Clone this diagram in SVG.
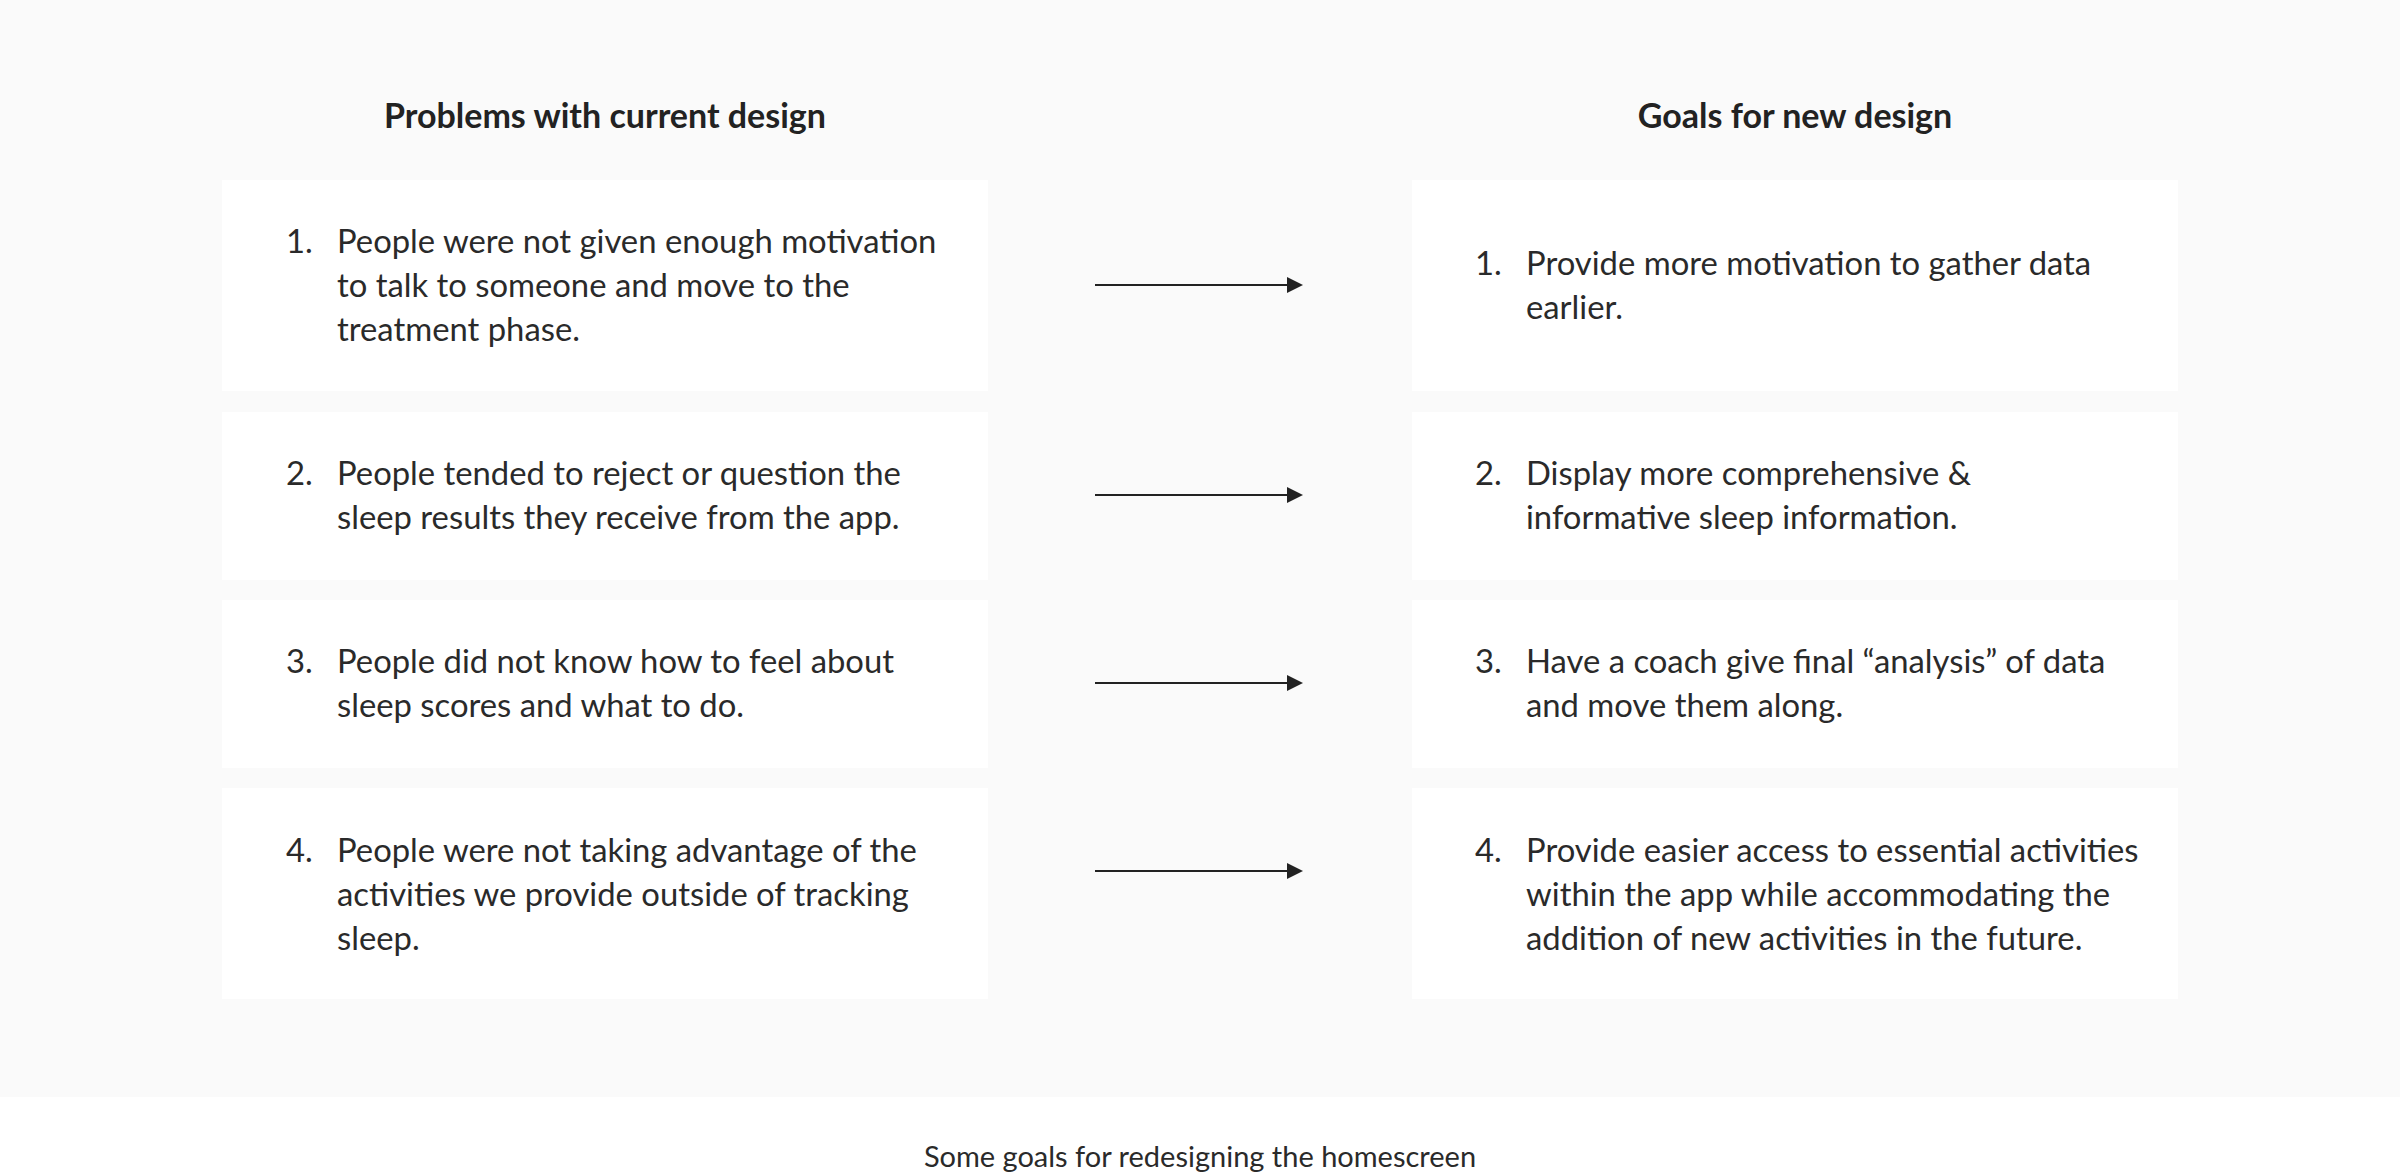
<svg xmlns="http://www.w3.org/2000/svg" width="2400" height="1174" viewBox="0 0 2400 1174">
<defs>
<style>
.bg{fill:#fafafa}
.box{fill:#ffffff}
.hd{font-family:Lato,"Noto Sans",sans-serif;font-weight:700;font-size:34px;fill:#222222;text-anchor:middle}
.t{font-family:Lato,"Noto Sans",sans-serif;font-size:32.8px;fill:#2a2a2a}
.cap{font-family:Lato,"Noto Sans",sans-serif;font-size:29px;fill:#2a2a2a;text-anchor:middle}
.ln{stroke:#222222;stroke-width:2.2;fill:none}
</style>
<marker id="ah" viewBox="0 0 16 16" refX="0" refY="8" markerWidth="16" markerHeight="16" markerUnits="userSpaceOnUse" orient="auto">
<path d="M0,0 L16,8 L0,16 Z" fill="#222222"/>
</marker>
</defs>
<rect x="0" y="0" width="2400" height="1174" fill="#ffffff"/>
<rect class="bg" x="0" y="0" width="2400" height="1097"/>

<g id="header-left"><text class="hd" x="605" y="128">Problems with current design</text></g>
<g id="header-right"><text class="hd" x="1795" y="128">Goals for new design</text></g>

<g id="p1">
<rect class="box" x="222" y="180" width="766" height="211"/>
<text class="t" x="286" y="253">1.</text>
<text class="t" x="337" y="253">People were not given enough motivation</text>
<text class="t" x="337" y="297">to talk to someone and move to the</text>
<text class="t" x="337" y="341">treatment phase.</text>
</g>
<g id="p2">
<rect class="box" x="222" y="412" width="766" height="168"/>
<text class="t" x="286" y="485">2.</text>
<text class="t" x="337" y="485">People tended to reject or question the</text>
<text class="t" x="337" y="529">sleep results they receive from the app.</text>
</g>
<g id="p3">
<rect class="box" x="222" y="600" width="766" height="168"/>
<text class="t" x="286" y="673">3.</text>
<text class="t" x="337" y="673">People did not know how to feel about</text>
<text class="t" x="337" y="717">sleep scores and what to do.</text>
</g>
<g id="p4">
<rect class="box" x="222" y="788" width="766" height="211"/>
<text class="t" x="286" y="862">4.</text>
<text class="t" x="337" y="862">People were not taking advantage of the</text>
<text class="t" x="337" y="906">activities we provide outside of tracking</text>
<text class="t" x="337" y="950">sleep.</text>
</g>

<g id="g1">
<rect class="box" x="1412" y="180" width="766" height="211"/>
<text class="t" x="1475" y="275">1.</text>
<text class="t" x="1526" y="275">Provide more motivation to gather data</text>
<text class="t" x="1526" y="319">earlier.</text>
</g>
<g id="g2">
<rect class="box" x="1412" y="412" width="766" height="168"/>
<text class="t" x="1475" y="485">2.</text>
<text class="t" x="1526" y="485">Display more comprehensive &amp;</text>
<text class="t" x="1526" y="529">informative sleep information.</text>
</g>
<g id="g3">
<rect class="box" x="1412" y="600" width="766" height="168"/>
<text class="t" x="1475" y="673">3.</text>
<text class="t" x="1526" y="673">Have a coach give final “analysis” of data</text>
<text class="t" x="1526" y="717">and move them along.</text>
</g>
<g id="g4">
<rect class="box" x="1412" y="788" width="766" height="211"/>
<text class="t" x="1475" y="862">4.</text>
<text class="t" x="1526" y="862">Provide easier access to essential activities</text>
<text class="t" x="1526" y="906">within the app while accommodating the</text>
<text class="t" x="1526" y="950">addition of new activities in the future.</text>
</g>

<g id="connectors">
<line class="ln" x1="1095" y1="285" x2="1287" y2="285" marker-end="url(#ah)"/>
<line class="ln" x1="1095" y1="495" x2="1287" y2="495" marker-end="url(#ah)"/>
<line class="ln" x1="1095" y1="683" x2="1287" y2="683" marker-end="url(#ah)"/>
<line class="ln" x1="1095" y1="871" x2="1287" y2="871" marker-end="url(#ah)"/>
</g>

<g id="caption"><text class="cap" x="1200" y="1167">Some goals for redesigning the homescreen</text></g>
</svg>
